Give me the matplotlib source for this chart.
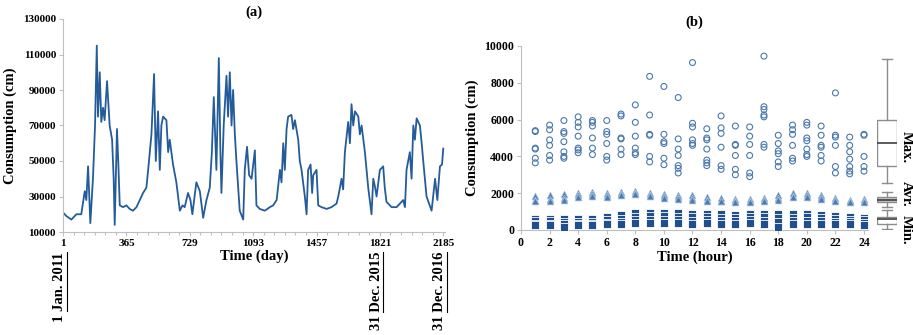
import matplotlib
matplotlib.use("Agg")
import matplotlib.pyplot as plt
from matplotlib.lines import Line2D
from matplotlib.ticker import FixedLocator, MultipleLocator
import matplotlib.transforms as mtransforms

plt.rcParams["font.family"] = ["Liberation Serif", "DejaVu Serif"]
plt.rcParams["font.weight"] = "bold"
plt.rcParams["axes.labelweight"] = "bold"
plt.rcParams["axes.titleweight"] = "bold"

# ---- panel (a): daily consumption ----
days = [1, 20, 49, 78, 106, 126, 135, 145, 158, 173, 185, 195, 202, 212, 221,
        231, 240, 254, 269, 283, 292, 298, 308, 311, 319, 327, 346, 365, 384,
        403, 423, 442, 461, 480, 493, 509, 524, 534, 547, 557, 566, 576, 595,
        605, 614, 633, 652, 672, 687, 700, 719, 733, 744, 767, 787, 806, 825,
        844, 856, 867, 882, 896, 905, 911, 924, 940, 949, 959, 969, 978, 988,
        997, 1007, 1016, 1036, 1045, 1058, 1070, 1084, 1103, 1112, 1131, 1160,
        1189, 1208, 1228, 1247, 1256, 1266, 1275, 1285, 1294, 1313, 1323, 1333,
        1352, 1361, 1371, 1390, 1400, 1409, 1423, 1432, 1438, 1457, 1467, 1486,
        1515, 1543, 1572, 1582, 1601, 1610, 1620, 1639, 1649, 1658, 1668, 1678,
        1697, 1706, 1716, 1735, 1754, 1773, 1783, 1792, 1802, 1821, 1840, 1849,
        1859, 1888, 1917, 1936, 1955, 1965, 1974, 1993, 2003, 2013, 2022, 2032,
        2051, 2061, 2070, 2089, 2118, 2138, 2151, 2166, 2178, 2185]
consumption = [21000, 19000, 17000, 20000, 20000, 33000, 28000, 47000, 15000,
               40000, 70000, 115000, 75000, 100000, 72000, 80000, 73000, 95000,
               70000, 62000, 40000, 14000, 55000, 68000, 48000, 25000, 24000,
               25000, 23000, 22000, 24000, 28000, 32000, 35000, 48000, 65000,
               99000, 50000, 78000, 45000, 70000, 75000, 73000, 55000, 62000,
               48000, 38000, 22000, 25000, 24000, 32000, 28000, 20000, 38000,
               33000, 18000, 28000, 35000, 55000, 86000, 45000, 108000, 55000,
               32000, 70000, 98000, 75000, 100000, 70000, 90000, 65000, 50000,
               35000, 22000, 17000, 45000, 58000, 42000, 40000, 56000, 25000,
               23000, 22000, 24000, 25000, 28000, 45000, 38000, 60000, 45000,
               68000, 75000, 76000, 68000, 73000, 62000, 50000, 45000, 30000,
               20000, 45000, 48000, 32000, 42000, 45000, 25000, 24000, 23000,
               24000, 26000, 30000, 40000, 34000, 55000, 72000, 60000, 82000,
               70000, 78000, 75000, 65000, 70000, 55000, 35000, 20000, 40000,
               36000, 30000, 45000, 47000, 35000, 27000, 24000, 24000, 26000,
               28000, 24000, 45000, 55000, 40000, 70000, 62000, 74000, 70000,
               60000, 50000, 30000, 22000, 40000, 28000, 47000, 48000, 57000]
day_ticks = [1, 365, 729, 1093, 1457, 1821, 2185]
cons_ticks = [10000, 30000, 50000, 70000, 90000, 110000, 130000]
date_labels = ["1 Jan. 2011", "31 Dec. 2015", "31 Dec. 2016"]
date_underlined = ["Jan. 2011", "Dec. 2015", "Dec. 2016"]
date_days = [1, 1821, 2185]

# ---- panel (b): hourly max / average / min ----
hours = list(range(1, 25))
maxima = [
    [5400, 5350, 4450, 4400, 3900, 3650],
    [5700, 5450, 4900, 4600, 4050, 3800],
    [5950, 5350, 5250, 4800, 4250, 4000, 3900],
    [6150, 5850, 5600, 5100, 4450, 4350, 4200],
    [5950, 5850, 5650, 5000, 4450, 4100],
    [5950, 5350, 5200, 4700, 4000, 3800],
    [6300, 6200, 5000, 4950, 4400, 4100],
    [6800, 5850, 5100, 4450, 4200, 4100],
    [8350, 6250, 5200, 5150, 4000, 3700],
    [7800, 5200, 4800, 4700, 3900, 3550],
    [7200, 4950, 4400, 4050, 3500, 3350, 3100],
    [9100, 5800, 5600, 4900, 4700, 4600],
    [5500, 5000, 4900, 4400, 3800, 3650, 3500],
    [6200, 5550, 5250, 4500, 3500, 3300],
    [5650, 4650, 4600, 4050, 3300, 3000],
    [5600, 5100, 4650, 4050, 3100, 2900],
    [9450, 6700, 6550, 6250, 6150, 4650, 4500],
    [5150, 4700, 4300, 4150, 3700, 3450],
    [5700, 5450, 5200, 4600, 3900, 3750],
    [5850, 5700, 5000, 4850, 4400, 4100, 4000],
    [5650, 5150, 4600, 4500, 4050, 3750],
    [7450, 5150, 5050, 4600, 3450, 3100],
    [5050, 4600, 4250, 3850, 3450, 3200, 3050],
    [5200, 5150, 4000, 3450, 3200],
]
averages = [
    [1850, 1650, 1550], [1900, 1700, 1600], [1950, 1750, 1650],
    [2000, 1900, 1800], [2050, 1950, 1850], [2000, 1900, 1800],
    [2050, 1950, 1900], [2100, 2000, 1950], [2000, 1900, 1850],
    [1950, 1850, 1750], [1900, 1800, 1700], [1900, 1750, 1650],
    [1800, 1650, 1550], [1750, 1600, 1550], [1700, 1600, 1500],
    [1700, 1550, 1500], [1750, 1650, 1550], [1900, 1750, 1650],
    [2000, 1850, 1800], [2000, 1900, 1800], [1900, 1800, 1700],
    [1750, 1650, 1550], [1650, 1550, 1500], [1700, 1600, 1500],
]
minima = [
    [620, 480, 340, 250], [600, 470, 330, 250],
    [580, 450, 320, 150], [580, 450, 320, 250],
    [600, 460, 330, 260], [700, 540, 400, 300],
    [800, 620, 450, 340], [920, 720, 520, 360],
    [950, 760, 560, 380], [920, 740, 560, 400],
    [900, 720, 540, 380], [860, 680, 500, 350],
    [880, 700, 520, 360], [860, 670, 500, 350],
    [830, 660, 490, 340], [880, 700, 520, 360],
    [860, 680, 480, 300], [880, 650, 420, 150],
    [850, 660, 490, 350], [860, 680, 500, 350],
    [840, 660, 490, 340], [780, 610, 460, 320],
    [700, 550, 420, 300], [660, 520, 400, 290],
]
# box summaries drawn at the right of panel (b)
box_names = ["Max.", "Avr.", "Min."]
box_whislo = [2540, 1270, 50]
box_q1 = [3500, 1500, 325]
box_med = [4745, 1650, 600]
box_q3 = [5980, 1810, 725]
box_whishi = [9275, 2080, 1090]
box_label_y = [4500, 1950, 0]

W, H = 913, 335
fig = plt.figure(figsize=(W / 100, H / 100), dpi=100)
grey = "#bfbfbf"


def style(ax, size):
    for s in ["top", "right"]:
        ax.spines[s].set_visible(False)
    for s in ["left", "bottom"]:
        ax.spines[s].set_color(grey)
        ax.spines[s].set_linewidth(0.8)
    ax.tick_params(which="both", direction="out", color=grey, length=3,
                   width=0.8, labelsize=size, pad=2)
    ax.tick_params(which="minor", length=2)


# panel (a)
axa = fig.add_axes([63 / W, 1 - 232 / H, 382 / W, 213 / H])
axa.plot(days, consumption, color="#245c9b", lw=1.3)
axa.set_xlim(1, 2195)
axa.set_ylim(10000, 130000)
axa.xaxis.set_major_locator(FixedLocator(day_ticks))
axa.xaxis.set_minor_locator(FixedLocator([1 + i * 364 / 6 for i in range(37)]))
axa.yaxis.set_major_locator(FixedLocator(cons_ticks))
style(axa, 8)
axa.set_xlabel("Time (day)", fontsize=10.5, labelpad=1)
axa.set_ylabel("Consumption (cm)", fontsize=10.5, labelpad=4)
axa.set_title("(a)", fontsize=10.5, pad=-2)

off = mtransforms.offset_copy(axa.get_xaxis_transform(), fig=fig, x=-3.5,
                              y=0, units="dots")
date_texts = []
for d, lab in zip(date_days, date_labels):
    t = axa.text(d, -20 / 213, lab, transform=off, rotation=90, ha="center",
                 va="top", fontsize=10.5)
    date_texts.append(t)

# panel (b)
axb = fig.add_axes([521 / W, 1 - 230 / H, 347 / W, 184 / H])
for h, vals in zip(hours, minima):
    axb.scatter([h] * len(vals), vals, marker="s", s=30, c="#1f4f8c",
                edgecolors="white", linewidths=0.6, zorder=3)
for h, vals in zip(hours, averages):
    axb.scatter([h] * len(vals), vals, marker="^", s=24, c="#4a7ab4",
                edgecolors="#a9c1de", linewidths=0.5, zorder=3)
for h, vals in zip(hours, maxima):
    axb.scatter([h] * len(vals), vals, marker="o", s=18, facecolors="none",
                edgecolors="#4a78ad", linewidths=0.8, zorder=3)
axb.set_xlim(0, 24.28)
axb.set_ylim(0, 10000)
axb.xaxis.set_major_locator(MultipleLocator(2))
axb.yaxis.set_major_locator(MultipleLocator(2000))
style(axb, 8.5)
axb.set_xlabel("Time (hour)", fontsize=10.5, labelpad=1)
axb.set_ylabel("Consumption (cm)", fontsize=10.5, labelpad=4)
axb.text(0.5, 1.13, "(b)", transform=axb.transAxes, ha="center", va="center",
         fontsize=10.5)

# box summaries
axx = fig.add_axes([877 / W, 1 - 230 / H, 20 / W, 184 / H])
stats = []
for i in range(3):
    stats.append({"whislo": box_whislo[i], "q1": box_q1[i], "med": box_med[i],
                  "q3": box_q3[i], "whishi": box_whishi[i], "fliers": []})
bp = axx.bxp(stats, positions=[0.5, 0.5, 0.5], widths=1.0, showfliers=False,
             patch_artist=True,
             boxprops=dict(facecolor="white", edgecolor="#8c8c8c", lw=1.0),
             whiskerprops=dict(color="#8c8c8c", lw=1.0),
             capprops=dict(color="#8c8c8c", lw=1.0),
             medianprops=dict(color="#404040", lw=1.2))
bp["boxes"][1].set_facecolor("#c8c8c8")
axx.set_xlim(0, 1)
axx.set_ylim(0, 10000)
axx.axis("off")
for name, y in zip(box_names, box_label_y):
    axx.text(1.45, y, name, transform=axx.get_yaxis_transform(), rotation=270,
             ha="center", va="center", fontsize=10.5, clip_on=False)

# bold tick labels, then underline the date part of the rotated labels
fig.canvas.draw()
for ax in (axa, axb):
    for lab in ax.get_xticklabels() + ax.get_yticklabels():
        lab.set_fontweight("bold")
r = fig.canvas.get_renderer()
inv = fig.transFigure.inverted()
for t, part in zip(date_texts, date_underlined):
    bb = t.get_window_extent(r)
    tmp = axa.text(0, 0, part, rotation=90, fontsize=10.5)
    ln = tmp.get_window_extent(r).height
    tmp.remove()
    p0 = inv.transform((bb.x1 + 0.5, bb.y1))
    p1 = inv.transform((bb.x1 + 0.5, bb.y1 - ln))
    fig.add_artist(Line2D([p0[0], p1[0]], [p0[1], p1[1]], color="black",
                          lw=0.8))

fig.savefig("out.png", dpi=100)
